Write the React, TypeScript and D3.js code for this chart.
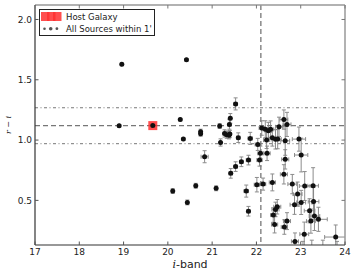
import React from "react";
import * as d3 from "d3";

// i-band magnitude, r-i colour, x error, y error
const iMag = [18.96, 18.90, 20.42, 20.28, 20.35, 20.74, 20.74, 20.83, 21.17, 21.19, 21.28, 21.33, 21.38, 21.40, 21.39, 21.41, 21.53, 21.59, 21.66, 21.82,
  20.11, 20.44, 20.63, 21.09, 21.42, 21.53, 21.77, 21.82, 21.86, 22.03, 22.07, 22.09, 22.12, 22.20, 22.23, 22.24, 22.27, 22.32, 22.36, 22.43,
  22.48, 22.51, 22.62, 22.69, 22.65, 22.96, 23.01, 22.65, 22.01, 22.15, 22.36, 22.62, 22.81, 22.93, 23.09, 23.28, 23.01, 22.86, 23.29, 22.47,
  22.43, 22.38, 22.41, 22.69, 22.63, 23.20, 23.31, 23.23, 23.40, 23.08, 22.87, 23.79, 23.05, 23.25, 23.50, 23.82];
const rMinusI = [1.628, 1.119, 1.666, 1.17, 1.008, 1.07, 1.052, 0.862, 1.116, 0.98, 1.055, 1.045, 1.04, 1.05, 1.13, 1.18, 1.30, 1.02, 0.82, 0.834,
  0.577, 0.483, 0.621, 0.60, 0.724, 0.78, 0.577, 0.41, 1.014, 0.964, 0.834, 0.89, 1.10, 1.09, 1.00, 0.89, 1.077, 1.089, 1.02, 1.006,
  1.008, 1.11, 1.17, 1.13, 0.994, 1.008, 0.876, 0.84, 0.63, 0.635, 0.649, 0.716, 0.635, 0.552, 0.619, 0.621, 0.483, 0.464, 0.49, 0.447,
  0.425, 0.378, 0.30, 0.328, 0.279, 0.414, 0.37, 0.328, 0.343, 0.22, 0.16, 0.196, 0.06, 0.02, 0.05, 0.08];
const iErr = [0, 0, 0.01, 0.01, 0.01, 0.02, 0.02, 0.08, 0.02, 0.02, 0.03, 0.03, 0.03, 0.03, 0.03, 0.03, 0.04, 0.04, 0.04, 0.05,
  0.01, 0.02, 0.02, 0.02, 0.04, 0.04, 0.05, 0.04, 0.05, 0.06, 0.06, 0.06, 0.06, 0.07, 0.07, 0.07, 0.07, 0.07, 0.08, 0.08,
  0.08, 0.08, 0.09, 0.09, 0.1, 0.15, 0.15, 0.08, 0.06, 0.06, 0.07, 0.08, 0.1, 0.1, 0.12, 0.12, 0.1, 0.1, 0.12, 0.08,
  0.08, 0.06, 0.07, 0.08, 0.07, 0.12, 0.12, 0.1, 0.2, 0.1, 0.08, 0.25, 0.1, 0.1, 0.15, 0.2];
const colErr = [0.01, 0.01, 0.01, 0.01, 0.01, 0.02, 0.02, 0.05, 0.02, 0.03, 0.03, 0.03, 0.03, 0.03, 0.04, 0.04, 0.05, 0.04, 0.04, 0.04,
  0.02, 0.02, 0.02, 0.02, 0.04, 0.04, 0.05, 0.04, 0.05, 0.05, 0.05, 0.06, 0.06, 0.07, 0.07, 0.06, 0.07, 0.07, 0.07, 0.08,
  0.08, 0.08, 0.08, 0.1, 0.12, 0.1, 0.14, 0.08, 0.06, 0.05, 0.07, 0.08, 0.08, 0.1, 0.12, 0.15, 0.1, 0.08, 0.12, 0.06,
  0.06, 0.06, 0.07, 0.07, 0.06, 0.1, 0.12, 0.1, 0.1, 0.1, 0.07, 0.1, 0.1, 0.15, 0.12, 0.08];

const hostI = [19.66];
const hostCol = [1.12];

const colourMean = [1.12];
const colourBand = [0.97, 1.268];
const iLimit = [22.1];

const xTicks = [17, 18, 19, 20, 21, 22, 23, 24];
const yTicks = [0.5, 1.0, 1.5, 2.0];
const legendLabels = ["Host Galaxy", "All Sources within 1'"];

export default function App() {
  const W = 356, H = 271;
  const L = 35, R = 345, T = 5, B = 245;
  const x = d3.scaleLinear().domain([17, 24]).range([L, R]);
  const y = d3.scaleLinear().domain([0.13, 2.12]).range([B, T]);
  const font = "DejaVu Sans, sans-serif";
  const errColor = "#808080";
  const cap = 2;

  return (
    <svg width={W} height={H} style={{ position: "absolute", left: 0, top: 0 }}>
      <rect x={0} y={0} width={W} height={H} fill="white" />
      <defs>
        <clipPath id="plotclip">
          <rect x={L} y={T} width={R - L} height={B - T} />
        </clipPath>
      </defs>
      <g clipPath="url(#plotclip)">
        {colourMean.map((v, k) => (
          <line key={"m" + k} x1={L} x2={R} y1={y(v)} y2={y(v)} stroke="#777" strokeWidth={1.3} strokeDasharray="5,3" />
        ))}
        {colourBand.map((v, k) => (
          <line key={"b" + k} x1={L} x2={R} y1={y(v)} y2={y(v)} stroke="#777" strokeWidth={1} strokeDasharray="3,2.5,1,2.5" />
        ))}
        {iLimit.map((v, k) => (
          <line key={"v" + k} x1={x(v)} x2={x(v)} y1={T} y2={B} stroke="#777" strokeWidth={1.3} strokeDasharray="5,3" />
        ))}
        {hostI.map((v, k) => (
          <rect key={"h" + k} x={x(v) - 4.5} y={y(hostCol[k]) - 4.5} width={9} height={9} fill="#ff3030" opacity={0.85} />
        ))}
        {iMag.map((v, k) => {
          const cx = x(v), cy = y(rMinusI[k]);
          const x0 = x(v - iErr[k]), x1 = x(v + iErr[k]);
          const y0 = y(rMinusI[k] - colErr[k]), y1 = y(rMinusI[k] + colErr[k]);
          return (
            <g key={"e" + k} stroke={errColor} strokeWidth={1} opacity={0.9}>
              <line x1={x0} x2={x1} y1={cy} y2={cy} />
              <line x1={cx} x2={cx} y1={y0} y2={y1} />
              <line x1={x0} x2={x0} y1={cy - cap} y2={cy + cap} />
              <line x1={x1} x2={x1} y1={cy - cap} y2={cy + cap} />
              <line x1={cx - cap} x2={cx + cap} y1={y0} y2={y0} />
              <line x1={cx - cap} x2={cx + cap} y1={y1} y2={y1} />
            </g>
          );
        })}
        {iMag.map((v, k) => (
          <circle key={"p" + k} cx={x(v)} cy={y(rMinusI[k])} r={2.5} fill="#111" />
        ))}
        {hostI.map((v, k) => (
          <circle key={"hp" + k} cx={x(v)} cy={y(hostCol[k])} r={2.5} fill="#111" />
        ))}
      </g>
      <line x1={L} x2={R} y1={T} y2={T} stroke="#999" strokeWidth={1.5} />
      <line x1={R} x2={R} y1={T} y2={B} stroke="#999" strokeWidth={1.5} />
      <line x1={L} x2={L} y1={T} y2={B} stroke="#333" strokeWidth={1.2} />
      <line x1={L} x2={R} y1={B} y2={B} stroke="#333" strokeWidth={1.2} />
      {xTicks.map((t) => (
        <g key={"xt" + t}>
          <line x1={x(t)} x2={x(t)} y1={B} y2={B - 3.5} stroke="#555" />
          <line x1={x(t)} x2={x(t)} y1={T} y2={T + 3.5} stroke="#777" />
          <text x={x(t)} y={B + 9.5} fontSize={9} fontFamily={font} textAnchor="middle" fill="#222">{t}</text>
        </g>
      ))}
      {yTicks.map((t) => (
        <g key={"yt" + t}>
          <line x1={L} x2={L + 3.5} y1={y(t)} y2={y(t)} stroke="#555" />
          <line x1={R} x2={R - 3.5} y1={y(t)} y2={y(t)} stroke="#777" />
          <text x={L - 3} y={y(t) + 3.2} fontSize={9} fontFamily={font} textAnchor="end" fill="#222">{t.toFixed(1)}</text>
        </g>
      ))}
      <text x={(L + R) / 2} y={268} fontSize={11} fontFamily={font} textAnchor="middle" fill="#222">
        <tspan fontStyle="italic" fontFamily="DejaVu Serif, serif">i</tspan>-band
      </text>
      <text transform={`translate(11, ${(T + B) / 2}) rotate(-90)`} fontSize={8} fontFamily="DejaVu Serif, serif" fontStyle="italic" textAnchor="middle" fill="#222">
        r − i
      </text>
      <rect x={39.5} y={9.5} width={115} height={26} fill="white" stroke="#222" strokeWidth={1} />
      {[0, 1, 2].map((j) => (
        <rect key={"lr" + j} x={41 + j * 6} y={12} width={8.5} height={9} fill="#ff3030" opacity={0.85} />
      ))}
      {[0, 1, 2].map((j) => (
        <circle key={"lc" + j} cx={44.5 + j * 6.2} cy={28.7} r={[1.3, 1.8, 1.4][j]} fill="#555" />
      ))}
      <text x={66} y={19.5} fontSize={8.5} fontFamily={font} fill="#222">{legendLabels[0]}</text>
      <text x={66} y={31.8} fontSize={8.5} fontFamily={font} fill="#222">{legendLabels[1]}</text>
    </svg>
  );
}
